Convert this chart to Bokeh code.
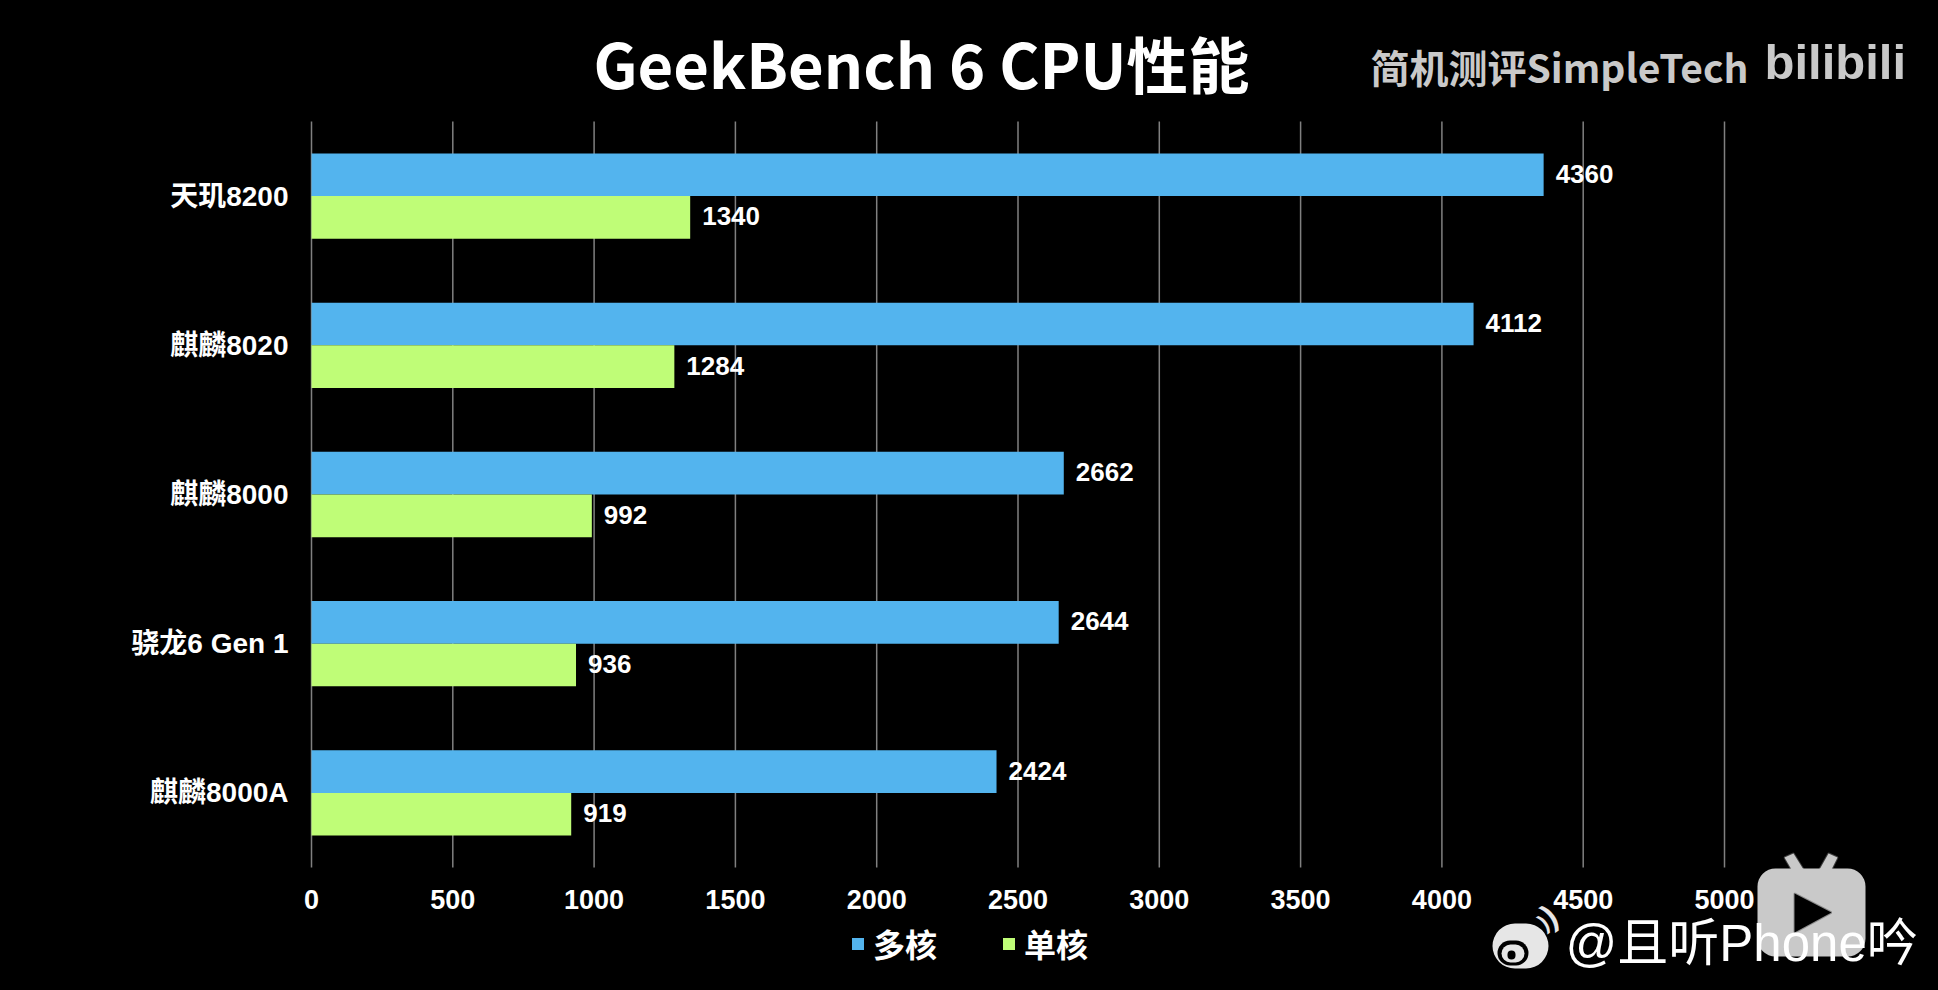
from bokeh.plotting import figure
from bokeh.embed import file_html
from bokeh.resources import INLINE
from bokeh.models import (ColumnDataSource, Label, BoxAnnotation, PolyAnnotation,
                          Legend, LegendItem, FixedTicker, Range1d, FactorRange)
from bokeh.transform import dodge
from bokeh.core.properties import value

categories = ["天玑8200", "麒麟8020", "麒麟8000", "骁龙6 Gen 1", "麒麟8000A"]
multi_core = [4360, 4112, 2662, 2644, 2424]
single_core = [1340, 1284, 992, 936, 919]
x_ticks = [0, 500, 1000, 1500, 2000, 2500, 3000, 3500, 4000, 4500, 5000]
series_names = ["多核", "单核"]
title_text = "GeekBench 6 CPU性能"

BLUE = "#53b4ee"
GREEN = "#bffd77"
GRAY = "#c9c9c9"
FONT = "'Liberation Sans', 'Noto Sans CJK SC'"
CJK = "'Noto Sans CJK SC'"

src = ColumnDataSource(dict(cat=categories, multi=multi_core, single=single_core,
                            multi_t=[str(v) for v in multi_core],
                            single_t=[str(v) for v in single_core]))

# The frame fills the whole canvas so that nothing placed around the chart is clipped.
W, H = 1938, 988
LEFT, PLOT_W = 311, 1413
TOP, PLOT_H = 121, 746
px_per_unit = PLOT_W / 5000
px_per_cat = PLOT_H / len(categories)

p = figure(width=W, height=H, output_backend="svg", toolbar_location=None,
           x_range=Range1d(-LEFT / px_per_unit, (W - LEFT) / px_per_unit),
           y_range=FactorRange(factors=categories[::-1], range_padding=TOP / px_per_cat,
                               range_padding_units="absolute"),
           min_border=0, min_border_left=0, min_border_right=0, min_border_top=0, min_border_bottom=0,
           background_fill_color="black", border_fill_color="black", outline_line_color=None)

p.xaxis.ticker = FixedTicker(ticks=x_ticks)
p.xaxis.fixed_location = 0
p.xaxis.axis_line_color = None
p.xaxis.major_tick_line_color = None
p.xaxis.minor_tick_line_color = None
p.xaxis.major_label_text_color = "white"
p.xaxis.major_label_text_font = FONT
p.xaxis.major_label_text_font_size = "27px"
p.xaxis.major_label_text_font_style = "bold"
p.xaxis.major_label_standoff = 16

p.yaxis.fixed_location = 0
p.yaxis.axis_line_color = None
p.yaxis.major_tick_line_color = None
p.yaxis.minor_tick_line_color = None
p.yaxis.major_label_text_color = "white"
p.yaxis.major_label_text_font = FONT
p.yaxis.major_label_text_font_size = "28px"
p.yaxis.major_label_text_font_style = "bold"
p.yaxis.major_label_standoff = 17

p.grid.grid_line_color = None
p.segment(x0=x_ticks, x1=x_ticks, y0=[0] * len(x_ticks), y1=[len(categories)] * len(x_ticks),
          line_color="#808080", line_width=1.5)

BAR = 0.286
r1 = p.hbar(y=dodge("cat", BAR / 2, range=p.y_range), left=0, right="multi", height=BAR,
            source=src, fill_color=BLUE, line_color=None)
r2 = p.hbar(y=dodge("cat", -BAR / 2, range=p.y_range), left=0, right="single", height=BAR,
            source=src, fill_color=GREEN, line_color=None)

for col, off in (("multi", BAR / 2), ("single", -BAR / 2)):
    p.text(x=col, y=dodge("cat", off, range=p.y_range), text=col + "_t", source=src,
           x_offset=12, y_offset=-1, text_color="white", text_font=value("Liberation Sans"),
           text_font_size="26px", text_font_style="bold", text_baseline="middle")

legend = Legend(items=[LegendItem(label=series_names[0], renderers=[r1]),
                       LegendItem(label=series_names[1], renderers=[r2])],
                orientation="horizontal", location=(850, 22),
                background_fill_alpha=0, border_line_color=None,
                label_text_color="white", label_text_font=CJK, label_text_font_size="32px",
                label_text_font_style="bold", glyph_width=15, glyph_height=15,
                label_standoff=8, spacing=64, margin=0, padding=0)
p.add_layout(legend, "center")


def text(s, x, y, size, color="white", style="normal", font=CJK, angle=0, align="left"):
    p.add_layout(Label(x=x, y=y, x_units="canvas", y_units="canvas", text=s, text_color=color,
                       text_font=font, text_font_size=size, text_font_style=style, angle=angle,
                       text_baseline="middle", text_align=align))


def box(l, r, t, b, color, radius=0):
    p.add_layout(BoxAnnotation(left=l, right=r, top=t, bottom=b, left_units="canvas",
                               right_units="canvas", top_units="canvas", bottom_units="canvas",
                               fill_color=color, fill_alpha=1, line_color=None,
                               border_radius=radius))


def poly(xs, ys, color):
    p.add_layout(PolyAnnotation(xs=xs, ys=ys, xs_units="canvas", ys_units="canvas",
                                fill_color=color, fill_alpha=1, line_color=color, line_width=2))


text(title_text, 593, 62, "61.5px", "white", "bold")

# watermark, top right
text("简机测评SimpleTech", 1370, 65, "39px", GRAY, "bold")
text("bilibili", 1764, 61, "49px", GRAY, "bold", "'Liberation Sans'")

# TV icon, bottom right
poly([1784, 1793, 1803, 1791], [857, 853, 869, 869], GRAY)
poly([1828, 1837, 1831, 1819], [853, 857, 869, 869], GRAY)
box(1757, 1865, 868, 956, GRAY, 18)
poly([1794, 1831, 1794], [893, 912, 932], "#000000")

# weibo logo
box(1492, 1548, 923, 968, "#e6e6e6", 24)
box(1497, 1528, 940, 965, "#000000", 13)
box(1501, 1524, 944, 962, "#e6e6e6", 10)
box(1507, 1515, 950, 959, "#000000", 4)
text(")", 1543, 922, "22px", "#e6e6e6", "bold", "'Liberation Sans'", angle=0.6, align="center")
text(")", 1549, 915, "32px", "#e6e6e6", "bold", "'Liberation Sans'", angle=0.6, align="center")

text("@且听Phone吟", 1565, 943, "51px", "white", "normal", "'Liberation Sans', 'Noto Sans CJK SC'")

html = file_html(p, INLINE)
html = html.replace("<head>", "<head><style>html,body{background:#000}</style>", 1)
open("out.html", "w").write(html)
